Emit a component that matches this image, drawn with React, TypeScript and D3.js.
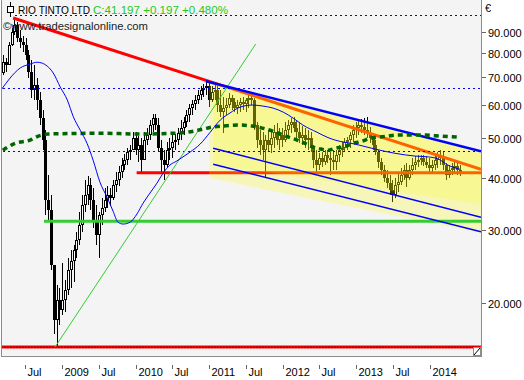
import React from "react";
import * as d3 from "d3";

// ---------- DATA ----------
const barStart = "2008-03-14";
const barStepDays = 14;
const firstOpen = 71.5;

const closes = [
  76.1, 74.9, 83.7, 90.0, 93.6, 87.0, 85.1, 83.7, 79.2, 72.1,
  65.2, 67.0, 61.7, 55.8, 49.4, 35.4, 33.5, 24.7, 18.2, 20.3,
  19.2, 20.3, 21.5, 24.0, 25.3, 26.8, 28.4, 30.8, 34.4, 36.4,
  38.5, 35.4, 31.7, 29.2, 32.6, 33.9, 35.4, 36.4, 35.8, 38.5,
  39.6, 41.4, 43.0, 44.2, 46.2, 46.7, 49.9, 46.7, 48.0, 44.2,
  49.4, 50.8, 53.7, 55.8, 53.7, 47.2, 44.2, 43.0, 46.7, 47.2,
  48.8, 49.4, 51.4, 52.8, 54.6, 56.8, 59.0, 60.3, 61.7, 63.4,
  65.2, 65.9, 66.6, 61.7, 64.5, 65.2, 60.0, 57.7, 59.0, 60.0,
  62.4, 61.0, 59.0, 60.0, 61.0, 60.3, 61.7, 62.4, 61.7, 53.7,
  49.4, 48.0, 46.7, 49.4, 48.0, 49.9, 51.6, 49.4, 50.8, 49.4,
  52.2, 53.7, 54.6, 52.8, 51.6, 49.9, 50.8, 49.4, 49.9, 47.2,
  44.2, 43.0, 44.7, 43.7, 45.5, 44.7, 44.2, 43.7, 45.5, 46.7,
  47.2, 48.8, 49.4, 50.8, 52.2, 52.8, 53.7, 53.1, 52.2, 51.4,
  49.9, 48.0, 46.2, 43.7, 41.8, 40.0, 38.9, 37.4, 36.4, 38.5,
  39.1, 40.7, 41.8, 40.0, 41.8, 43.0, 43.7, 44.2, 44.7, 43.7,
  43.0, 42.3, 43.0, 44.2, 45.5, 44.7, 43.0, 40.7, 41.8, 42.3,
  42.8, 41.8, 41.2,
];
const highs = [
  79.2, 77.9, 85.1, 92.0, 97.2, 95.1, 91.0, 88.0, 87.0, 81.4,
  77.0, 74.9, 69.7, 64.5, 58.4, 52.2, 40.7, 36.4, 24.0, 22.1,
  21.7, 25.0, 22.7, 25.7, 26.8, 27.6, 29.7, 33.1, 36.4, 39.6,
  40.5, 40.0, 37.8, 34.4, 33.1, 35.8, 37.8, 38.3, 37.8, 39.6,
  41.4, 42.8, 44.7, 45.7, 47.2, 48.0, 51.6, 51.6, 50.5, 49.9,
  51.6, 52.8, 55.2, 57.1, 57.1, 55.8, 49.4, 46.7, 48.8, 49.9,
  50.8, 51.1, 52.8, 55.2, 56.2, 58.4, 60.3, 61.7, 63.4, 65.2,
  66.6, 67.4, 68.1, 67.7, 66.6, 67.4, 66.6, 65.2, 62.8, 62.4,
  64.1, 63.4, 62.4, 61.7, 62.4, 62.8, 62.4, 63.4, 64.1, 62.4,
  54.6, 52.2, 51.6, 50.8, 52.2, 51.6, 53.7, 54.3, 52.8, 52.8,
  54.6, 55.2, 55.8, 56.2, 55.2, 54.3, 53.4, 52.8, 52.2, 51.6,
  48.0, 46.7, 45.9, 46.2, 46.7, 46.7, 46.2, 46.7, 46.7, 48.0,
  48.8, 49.9, 50.2, 51.6, 53.7, 54.6, 55.2, 55.5, 55.8, 56.2,
  53.1, 50.8, 49.4, 46.7, 44.7, 43.0, 41.8, 40.7, 39.6, 40.0,
  41.1, 42.3, 43.0, 43.5, 43.0, 44.7, 45.2, 45.5, 45.5, 45.5,
  45.2, 44.7, 44.2, 45.5, 46.2, 46.7, 46.2, 43.5, 43.0, 43.5,
  43.7, 43.5, 43.0,
];
const lows = [
  70.9, 72.1, 76.1, 83.3, 88.5, 85.1, 82.3, 80.5, 77.0, 69.7,
  62.4, 61.7, 58.4, 53.7, 46.7, 32.6, 31.3, 24.0, 16.8, 15.7,
  17.7, 18.7, 19.0, 20.9, 21.7, 22.5, 25.7, 27.6, 29.7, 33.1,
  34.4, 33.5, 30.3, 27.6, 25.7, 30.8, 33.1, 33.9, 34.2, 35.4,
  37.0, 38.3, 40.0, 41.8, 43.0, 44.2, 46.7, 45.5, 43.7, 41.4,
  44.2, 48.0, 49.4, 51.6, 52.2, 46.2, 41.4, 39.6, 42.3, 44.2,
  44.7, 46.7, 48.0, 49.4, 50.8, 53.1, 54.6, 56.8, 58.4, 60.3,
  61.7, 62.8, 63.4, 59.3, 61.0, 61.7, 57.7, 56.2, 51.4, 56.8,
  59.0, 58.4, 57.7, 57.1, 57.7, 58.4, 57.7, 59.0, 60.0, 52.2,
  47.2, 45.5, 44.2, 40.2, 46.2, 45.9, 47.2, 48.0, 46.7, 47.5,
  48.8, 50.2, 51.4, 51.6, 49.9, 48.5, 48.0, 47.2, 46.7, 46.2,
  42.3, 41.4, 41.8, 42.5, 43.0, 43.5, 40.7, 41.8, 41.8, 43.7,
  45.0, 46.2, 46.7, 47.2, 48.8, 49.9, 50.8, 51.4, 50.8, 49.9,
  48.5, 46.7, 45.5, 42.3, 40.7, 39.1, 37.8, 36.4, 35.0, 35.8,
  37.0, 38.5, 39.6, 38.1, 39.6, 40.7, 41.8, 42.5, 43.0, 42.8,
  42.3, 41.4, 41.1, 41.8, 42.3, 43.0, 41.8, 39.6, 40.0, 40.7,
  41.1, 40.7, 40.5,
];

const blueMA: [string, number][] = [
  ["2008-03-08", 65.6], ["2008-04-18", 69.7], ["2008-06-07", 73.7], ["2008-07-26", 75.3],
  ["2008-08-30", 76.1], ["2008-09-25", 75.7], ["2008-10-19", 74.5], ["2008-11-18", 71.7],
  ["2008-12-23", 66.3], ["2009-01-27", 61.7], ["2009-02-26", 56.2], ["2009-04-01", 52.2],
  ["2009-05-05", 48.5], ["2009-06-04", 44.2], ["2009-07-08", 39.1], ["2009-08-12", 36.0],
  ["2009-09-11", 33.3], ["2009-10-06", 31.3], ["2009-10-31", 31.0], ["2009-12-04", 31.3],
  ["2010-01-08", 32.8], ["2010-02-07", 34.8], ["2010-03-13", 36.8], ["2010-04-17", 38.9],
  ["2010-05-17", 41.1], ["2010-06-20", 43.0], ["2010-07-25", 44.0], ["2010-08-24", 45.0],
  ["2010-09-28", 46.2], ["2010-11-17", 48.3], ["2011-01-06", 51.6], ["2011-02-25", 55.2],
  ["2011-04-14", 57.4], ["2011-06-03", 59.3], ["2011-08-02", 60.0], ["2011-09-21", 59.7],
  ["2011-11-14", 59.0], ["2012-01-03", 57.7], ["2012-02-22", 55.8], ["2012-04-10", 53.7],
  ["2012-06-19", 51.6], ["2012-08-08", 50.2], ["2012-09-17", 49.4], ["2012-12-26", 48.3],
  ["2013-04-03", 47.0], ["2013-07-12", 45.9], ["2013-10-20", 45.2], ["2013-12-23", 45.0],
  ["2014-02-10", 44.5], ["2014-03-31", 43.0], ["2014-05-30", 42.0],
];

const greenMA: [string, number][] = [
  ["2008-03-13", 46.7], ["2008-05-12", 48.5], ["2008-07-26", 49.4], ["2008-09-05", 50.5],
  ["2008-10-24", 51.1], ["2009-07-08", 51.3], ["2010-01-23", 51.1], ["2010-08-09", 51.4],
  ["2010-10-23", 52.0], ["2010-12-02", 52.5], ["2011-01-16", 53.1], ["2011-03-07", 53.4],
  ["2011-06-03", 53.7], ["2011-08-02", 53.4], ["2011-09-21", 52.8], ["2011-11-09", 52.0],
  ["2011-12-20", 51.1], ["2012-01-30", 50.2], ["2012-03-12", 49.4], ["2012-04-21", 48.5],
  ["2012-05-31", 47.5], ["2012-07-09", 47.0], ["2012-08-13", 46.7], ["2012-09-17", 47.2],
  ["2012-11-05", 47.7], ["2012-12-16", 48.5], ["2013-01-30", 49.1], ["2013-03-09", 49.9],
  ["2013-04-18", 50.2], ["2013-06-02", 50.5], ["2013-07-22", 50.8], ["2013-11-28", 50.8],
  ["2014-02-21", 50.5], ["2014-05-20", 50.2],
];

const resistanceLine: [string, number][] = [["2008-05-03", 97.3], ["2014-09-11", 42.0]];
const supportLine: [string, number][] = [["2010-01-06", 41.2], ["2014-09-11", 41.2]];
const lowLine: [string, number][] = [["2008-02-20", 15.66], ["2014-09-11", 15.66]];
const greenLevel: [string, number][] = [["2008-10-03", 31.5], ["2014-09-11", 31.5]];
const greenTrend: [string, number][] = [["2008-11-27", 15.66], ["2011-08-20", 84.2]];
const channelTop: [string, number][] = [["2010-12-16", 68.5], ["2014-09-11", 46.4]];
const channelMid: [string, number][] = [["2011-01-21", 47.2], ["2014-09-11", 32.2]];
const channelLow: [string, number][] = [["2011-01-21", 43.2], ["2014-09-11", 29.7]];
const paleBottom: [string, number][] = [["2011-01-01", 40.0], ["2014-09-11", 29.5]];
const darkBottom: [string, number][] = [["2011-01-21", 43.2], ["2014-09-11", 34.6]];
const paleStart = "2011-01-01";
const darkStart = "2011-01-21";

const dottedLevels = [98.9, 65.9, 46.5];
const dottedStarts = ["2008-05-10", "2008-02-20", "2008-02-20"];

const yTicks = [20, 30, 40, 50, 60, 70, 80, 90];
const xTicks: [string, string][] = [
  ["2008-07-01", "Jul"], ["2009-01-01", "2009"], ["2009-07-01", "Jul"], ["2010-01-01", "2010"],
  ["2010-07-01", "Jul"], ["2011-01-01", "2011"], ["2011-07-01", "Jul"], ["2012-01-01", "2012"],
  ["2012-07-01", "Jul"], ["2013-01-01", "2013"], ["2013-07-01", "Jul"], ["2014-01-01", "2014"],
];

const titleName = "RIO TINTO LTD";
const titleQuote = "C:41.197 +0.197 +0.480%";
const watermark = "\u00A9www.tradesignalonline.com";
const currency = "\u20AC";

// ---------- CHART ----------
const W = 524;
const H = 380;
const P = { left: 1, right: 481, top: 0, bottom: 356 };
const FONT = "'Liberation Sans', Arial, sans-serif";

const parse = d3.timeParse("%Y-%m-%d");

export default function App() {
  const x = d3
    .scaleTime()
    .domain([parse("2008-07-01")!, parse("2014-01-01")!])
    .range([25, 430]);
  const y = d3.scaleLog().domain([20, 90]).range([303, 32]);
  const fmt = d3.format(".3f");

  const pt = (d: [string, number]): [number, number] => [x(parse(d[0])!), y(d[1])];
  const seg = (line: [string, number][]) => {
    const a = pt(line[0]);
    const b = pt(line[1]);
    return { x1: a[0], y1: a[1], x2: b[0], y2: b[1] };
  };
  const atX = (line: [string, number][], px: number) => {
    const a = pt(line[0]);
    const b = pt(line[1]);
    return a[1] + ((b[1] - a[1]) * (px - a[0])) / (b[0] - a[0]);
  };

  const start = parse(barStart)!;
  const bars = closes.map((c, i) => {
    const o = i === 0 ? firstOpen : closes[i - 1];
    const d = d3.timeDay.offset(start, i * barStepDays);
    return { d, o, c, h: Math.max(highs[i], o, c), l: Math.min(lows[i], o, c) };
  });

  const lineGen = d3
    .line<[string, number]>()
    .x((d) => x(parse(d[0])!))
    .y((d) => y(d[1]))
    .curve(d3.curveMonotoneX);

  const polyFor = (startDate: string, bottom: [string, number][]) => {
    const x0 = x(parse(startDate)!);
    const x1 = P.right;
    const pts = [
      [x0, atX(channelTop, x0)],
      [x1, atX(channelTop, x1)],
      [x1, atX(bottom, x1)],
      [x0, atX(bottom, x0)],
    ];
    return "M" + pts.map((p) => p.join(",")).join("L") + "Z";
  };

  const s = (l: [string, number][]) => seg(l);

  return (
    <svg
      width={W}
      height={H}
      viewBox={`0 0 ${W} ${H}`}
      style={{ position: "absolute", left: 0, top: 0, background: "#ffffff" }}
    >
      <defs>
        <clipPath id="plot">
          <rect x={P.left} y={P.top} width={P.right - P.left} height={P.bottom - P.top} />
        </clipPath>
      </defs>
      <rect x={0} y={0} width={W} height={H} fill="#ffffff" />
      <rect x={P.left} y={P.top} width={P.right - P.left} height={P.bottom - P.top} fill="#f4f4f4" />

      <g clipPath="url(#plot)">
        {/* candles */}
        <g shapeRendering="crispEdges">
          {bars.map((b, i) => {
            const cx = Math.round(x(b.d));
            const top = Math.round(y(Math.max(b.o, b.c)));
            const bot = Math.round(y(Math.min(b.o, b.c)));
            const hi = Math.round(y(b.h));
            const lo = Math.round(y(b.l));
            const bh = Math.max(1, bot - top);
            const up = b.c >= b.o;
            return (
              <g key={i}>
                <rect x={cx} y={hi} width={1} height={Math.max(1, lo - hi)} fill="#000" />
                <rect x={cx - 1} y={top} width={3} height={bh} fill="#000" />
                {up && bh > 2 && <rect x={cx} y={top + 1} width={1} height={bh - 2} fill="#fff" />}
              </g>
            );
          })}
        </g>

        {/* red lines beneath the yellow channel */}
        <line {...s(resistanceLine)} stroke="#ff0000" strokeWidth={3} />
        <line {...s(supportLine)} stroke="#ff0000" strokeWidth={3} />
        <line {...s(lowLine)} stroke="#ff0000" strokeWidth={3} />
        <line {...s(lowLine)} stroke="#000" strokeWidth={1} strokeDasharray="1,2" />

        {/* yellow channel fills */}
        <path d={polyFor(paleStart, paleBottom)} fill="#ffff00" fillOpacity={0.24} />
        <path d={polyFor(darkStart, darkBottom)} fill="#ffff00" fillOpacity={0.2} />

        {/* horizontal dotted levels */}
        {dottedLevels.map((v, i) => {
          const yy = Math.round(y(v));
          const x0 = Math.round(x(parse(dottedStarts[i])!));
          return (
            <line
              key={i}
              x1={x0}
              x2={P.right}
              y1={yy + 0.5}
              y2={yy + 0.5}
              stroke="#0000ff"
              strokeWidth={1}
              strokeDasharray="2,3"
              shapeRendering="crispEdges"
            />
          );
        })}

        {/* green level and trend */}
        <line {...s(greenLevel)} stroke="#33cc33" strokeWidth={3} />
        <line {...s(greenTrend)} stroke="#33cc33" strokeWidth={1} />

        {/* channel lines */}
        <line {...s(channelTop)} stroke="#0000ff" strokeWidth={2.5} />
        <line {...s(channelMid)} stroke="#0000ff" strokeWidth={1.5} />
        <line {...s(channelLow)} stroke="#0000ff" strokeWidth={1.5} />

        {/* moving averages */}
        <path d={lineGen(greenMA) || ""} fill="none" stroke="#006400" strokeWidth={3.5} strokeDasharray="5,4" />
        <path d={lineGen(blueMA) || ""} fill="none" stroke="#0000ff" strokeWidth={1} />
      </g>

      {/* frame */}
      <g shapeRendering="crispEdges" stroke="#8c8c8c" strokeWidth={1}>
        <line x1={P.left + 0.5} x2={P.left + 0.5} y1={P.top} y2={P.bottom + 0.5} />
        <line x1={P.right + 0.5} x2={P.right + 0.5} y1={P.top} y2={P.bottom + 0.5} />
        <line x1={P.left} x2={P.right + 1} y1={P.bottom + 0.5} y2={P.bottom + 0.5} />
      </g>
      {/* resize glyph */}
      <g shapeRendering="crispEdges">
        <rect x={473.5} y={347.5} width={7} height={8} fill="#ffffff" stroke="#8c8c8c" />
        <line x1={474} y1={355} x2={480} y2={348} stroke="#000" strokeWidth={1} shapeRendering="auto" />
      </g>

      {/* title */}
      <g>
        <line x1={10.5} x2={10.5} y1={2} y2={17} stroke="#000" strokeWidth={1} />
        <rect x={7.5} y={6.5} width={6} height={6} fill="#fff" stroke="#000" strokeWidth={1} />
        <text x={18} y={14} fontFamily={FONT} fontSize={11} fill="#000" textLength={72} lengthAdjust="spacingAndGlyphs">
          {titleName}
        </text>
        <text x={93} y={14} fontFamily={FONT} fontSize={11} fill="#1ec81e" textLength={135} lengthAdjust="spacingAndGlyphs">
          {titleQuote}
        </text>
        <text x={3} y={30} fontFamily={FONT} fontSize={11} fill="#222" textLength={145} lengthAdjust="spacingAndGlyphs">
          {watermark}
        </text>
      </g>

      {/* y axis */}
      <text x={485} y={12} fontFamily={FONT} fontSize={11} fill="#000">
        {currency}
      </text>
      {yTicks.map((v) => {
        const yy = Math.round(y(v)) + 0.5;
        return (
          <g key={v}>
            <line x1={482} x2={486} y1={yy} y2={yy} stroke="#666" shapeRendering="crispEdges" />
            <text x={488} y={yy + 4} fontFamily={FONT} fontSize={11} fill="#000">
              {fmt(v)}
            </text>
          </g>
        );
      })}

      {/* x axis */}
      {xTicks.map(([d, label]) => {
        const xx = Math.round(x(parse(d)!)) + 0.5;
        return (
          <g key={d}>
            <line x1={xx} x2={xx} y1={365} y2={369} stroke="#666" shapeRendering="crispEdges" />
            <text x={xx + 2} y={376} fontFamily={FONT} fontSize={11} fill="#000">
              {label}
            </text>
          </g>
        );
      })}
    </svg>
  );
}
